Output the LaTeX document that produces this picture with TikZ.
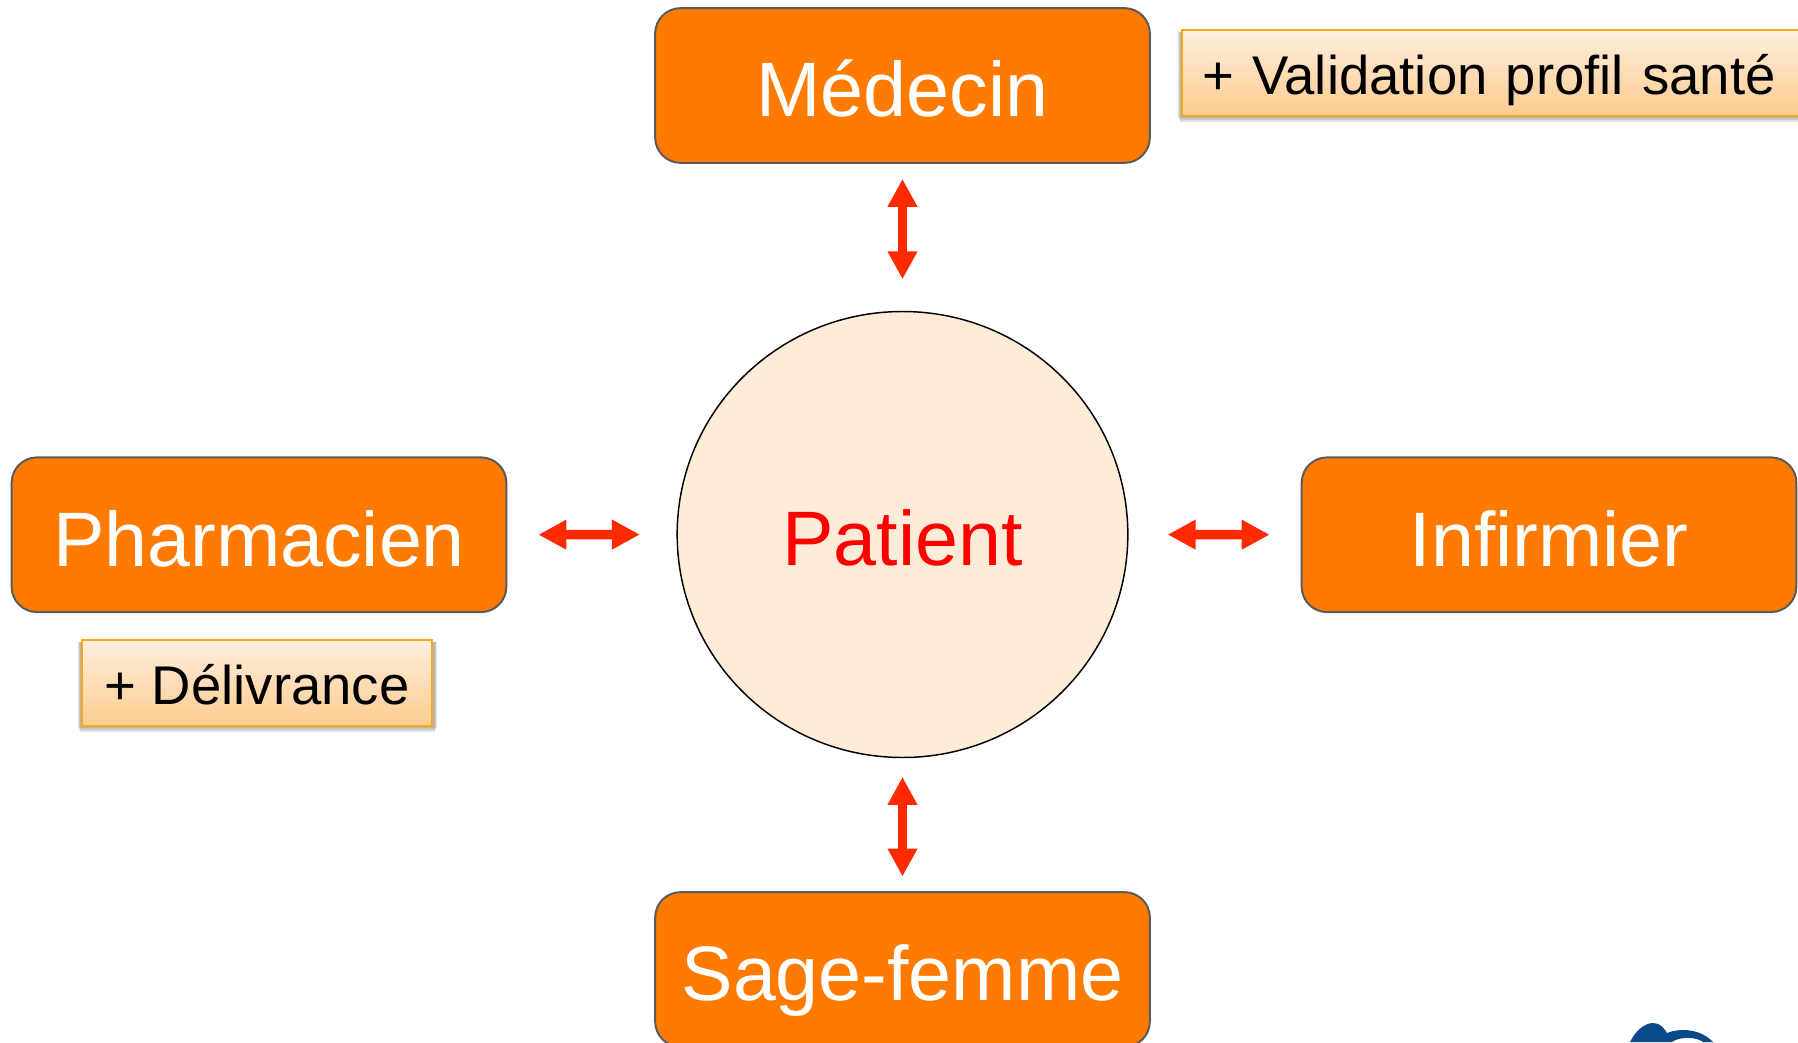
\documentclass[tikz,border=0pt]{standalone}
\usepackage{fontspec}
\setmainfont{Liberation Sans}
\usetikzlibrary{arrows.meta,shapes.geometric}
\definecolor{boxorange}{HTML}{FF7B00}
\definecolor{boxedge}{HTML}{5A5A5A}
\definecolor{arrowred}{HTML}{FF2A00}
\definecolor{circfill}{HTML}{FEECD8}
\definecolor{noteedge}{HTML}{F9A915}
\definecolor{notetop}{HTML}{FEEFDF}
\definecolor{notebot}{HTML}{FDCB8E}
\definecolor{logoblue}{HTML}{0A4A8A}
\tikzset{
  x=0.75pt,y=-0.75pt,
  role/.style={draw=boxedge,line width=1.5pt,fill=boxorange,rounded corners=19pt,
    minimum width=371pt,minimum height=116pt,inner sep=0pt,text=white,align=center,
    font=\fontsize{57.9}{60}\selectfont,text height=47pt,text depth=0pt},
  note/.style={draw=noteedge,line width=1.8pt,top color=notetop,bottom color=notebot,
    inner ysep=0pt,anchor=north west,
    font=\fontsize{40.9}{44}\selectfont,text height=31.6pt,text depth=0pt},
  shadowlayer/.style={fill=black,opacity=.11},
  link/.style={arrowred,line width=7pt,{Triangle[length=21pt,width=21pt]}-{Triangle[length=21pt,width=21pt]}},
}
\begin{document}
\begin{tikzpicture}
\useasboundingbox (0,0) rectangle (1798,1042);
\clip (0,0) rectangle (1798,1042);
\foreach \g in {1,3,5}{
  \fill[shadowlayer] (1180-\g/2,32) rectangle (1815,116+7-\g);
  \fill[shadowlayer] (80-\g/2,642) rectangle (434+\g/2,726+7-\g);
}
\node[role] (medecin) at (902.5,85.5) {Médecin};
\node[role] (pharma) at (259,534.75) {Pharmacien};
\node[role] (infirm) at (1549,534.75) {Infirmier};
\node[role] (sage) at (902.5,969.5) {Sage-femme};
\node[draw=black,line width=1.1pt,fill=circfill,ellipse,minimum width=338pt,minimum height=334.5pt,inner sep=0pt,
  text=red,font=\fontsize{57.9}{60}\selectfont,text height=47pt,text depth=0pt] (patient) at (902.5,534.5) {Patient};
\node[note,minimum height=64.5pt,text width=438pt,inner xsep=15pt,align=left] (valid) at (1181,29) {+ Validation profil santé};
\node[note,minimum height=64.5pt,minimum width=262.5pt,inner xsep=0pt] (deliv) at (81,639) {+ Délivrance};
\draw[link,shorten <=11.3pt,shorten >=23.6pt] (medecin.south) -- (patient.north);
\draw[link,shorten <=14pt,shorten >=11pt] (patient.south) -- (sage.north);
\draw[link,shorten <=23.3pt,shorten >=27.4pt] (pharma.east) -- (patient.west);
\draw[link,shorten <=29.3pt,shorten >=23.3pt] (patient.east) -- (infirm.west);
\fill[logoblue] (1630,1042) .. controls (1636,1030) and (1645,1023) .. (1653,1023)
  .. controls (1660,1023) and (1664,1028) .. (1667,1033)
  .. controls (1682,1027) and (1702,1030) .. (1713,1042)
  -- (1703,1042) .. controls (1697,1037) and (1680,1036) .. (1672,1042) -- cycle;
\end{tikzpicture}
\end{document}
